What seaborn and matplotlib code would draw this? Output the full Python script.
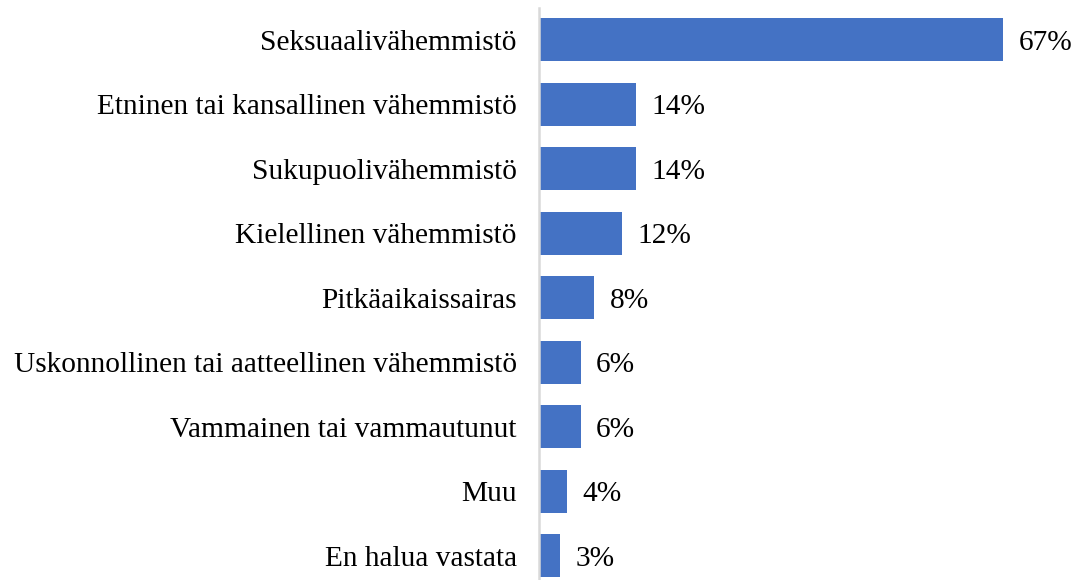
import matplotlib
matplotlib.use("Agg")
import matplotlib.pyplot as plt
import seaborn as sns
import pandas as pd

# Data
categories = [
    "Seksuaalivähemmistö",
    "Etninen tai kansallinen vähemmistö",
    "Sukupuolivähemmistö",
    "Kielellinen vähemmistö",
    "Pitkäaikaissairas",
    "Uskonnollinen tai aatteellinen vähemmistö",
    "Vammainen tai vammautunut",
    "Muu",
    "En halua vastata",
]
shares = [67, 14, 14, 12, 8, 6, 6, 4, 3]

df = pd.DataFrame({"Ryhmä": categories, "Osuus": shares})

sns.set_style("white")
plt.rcParams["font.family"] = ["Liberation Serif", "DejaVu Serif"]
plt.rcParams["text.color"] = "black"
plt.rcParams["ytick.color"] = "black"

fig = plt.figure(figsize=(10.74, 5.8), dpi=100)
ax = fig.add_axes([539 / 1074, -8 / 580, 535 / 1074, 580.5 / 580])

sns.barplot(data=df, x="Osuus", y="Ryhmä", color="#4472C4", saturation=1,
            width=0.67, linewidth=0, ax=ax)

# value labels
for i, v in enumerate(shares):
    ax.annotate(f"{v}%", (v, i), xytext=(11, 0), textcoords="offset points",
                va="center_baseline", ha="left", fontsize=21.2)

ax.set_xlim(0, 77.2)
ax.set_ylim(8.5, -0.5)
ax.set_xlabel("")
ax.set_ylabel("")
ax.set_xticks([])
ax.tick_params(axis="y", length=0, pad=16, labelsize=21.2)
for lbl in ax.get_yticklabels():
    lbl.set_verticalalignment("center_baseline")

for s in ["top", "right", "bottom"]:
    ax.spines[s].set_visible(False)
ax.spines["left"].set_color("#d9d9d9")
ax.spines["left"].set_linewidth(1.8)

fig.savefig("out.png", dpi=100)
